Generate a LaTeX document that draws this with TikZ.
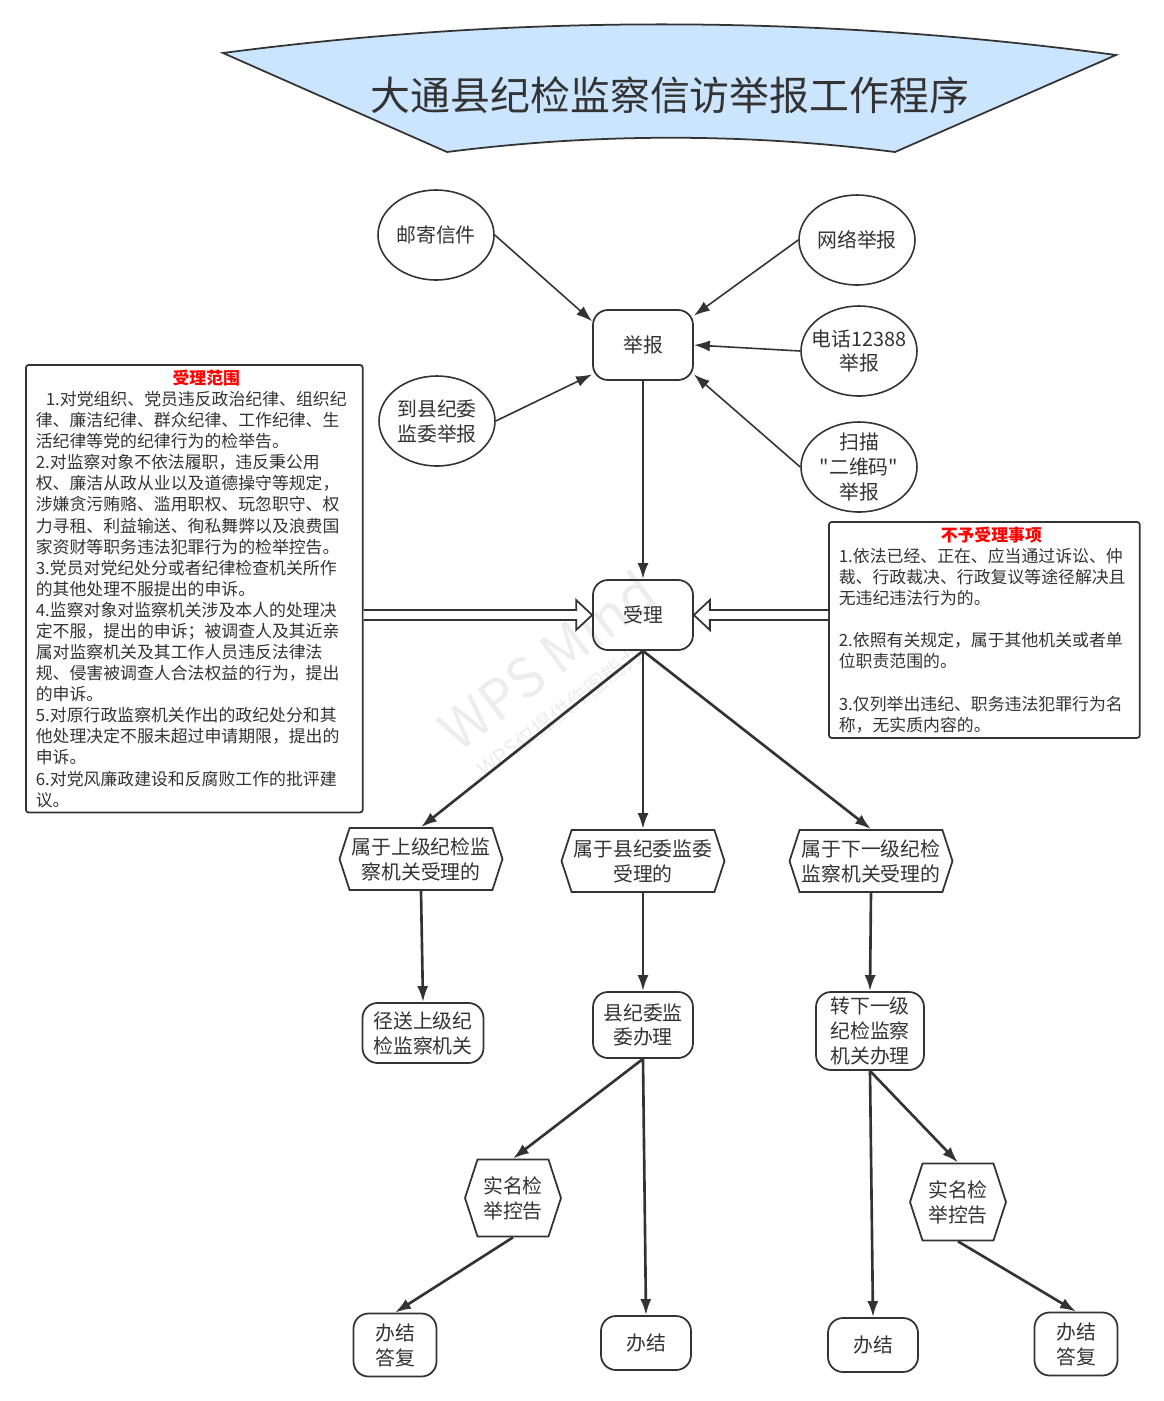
\documentclass[tikz,border=0pt]{standalone}
\usepackage{fontspec}
\setmainfont{Noto Sans CJK SC}
\newfontfamily\plainq{Noto Sans CJK SC}
\usetikzlibrary{shapes.geometric,shapes.symbols,arrows.meta,calc}

\definecolor{ink}{HTML}{333333}
\definecolor{banner}{HTML}{CCE5FF}

\begin{document}
\begin{tikzpicture}[x=0.02cm,y=-0.02cm,>={Latex[length=3.2mm,width=2.2mm]},
  every node/.style={text=ink,font=\fontsize{11.3}{14.2}\selectfont,align=center},
  src/.style={ellipse,draw=ink,line width=0.9pt,minimum width=2.32cm,minimum height=1.8cm,inner sep=-0.2cm},
  box/.style={draw=ink,line width=1pt,rounded corners=0.3cm,minimum width=2cm,minimum height=1.4cm,inner sep=0pt},
  hexa/.style={signal,signal to=west and east,draw=ink,line width=1pt,signal pointer angle=144,inner sep=0pt},
  note/.style={draw=ink,line width=1pt,rounded corners=0.06cm,anchor=north west,align=left,font=\fontsize{9.6}{12}\selectfont,inner xsep=0.2cm,inner ysep=0.1cm},
  feed/.style={->,draw=ink,line width=0.9pt},
  flow/.style={->,draw=ink,line width=1.5pt},
  hollow/.style={draw=ink,line width=1pt,fill=white}]
  \useasboundingbox (0,0) rectangle (1164,1401);
  \node[text=black!7,rotate=37,font=\fontsize{31}{31}\selectfont] (wm1) at (547,660) {WPS Mind};
  \node[text=black!7,rotate=37,font=\fontsize{12.5}{12.5}\selectfont] (wm2) at (560,712) {WPS仅提供作图能力};
  \draw[draw=ink,line width=1pt,fill=banner] (223,53) .. controls (521,14) and (819,15) .. (1116,55)
    -- (895,152) .. controls (746,133) and (596,133) .. (447,152) -- cycle;
  \node[font=\fontsize{22.7}{26}\selectfont] (title) at (670,95) {大通县纪检监察信访举报工作程序};
  \node[src] (yj) at (436,235) {邮寄信件};
  \node[src] (wl) at (857,240) {网络举报};
  \node[src] (dh) at (859,351) {电话12388\\举报};
  \node[src] (dx) at (437,421) {到县纪委\\监委举报};
  \node[src] (sm) at (859,467) {扫描\\{\plainq"}二维码{\plainq"}\\举报};
  \node[box] (jb) at (643,345) {举报};
  \node[box] (sl) at (643,615) {受理};
  \node[note,text width=6.34cm] (fw) at (25,364) {\makebox[6.34cm]{\hspace{0.48cm}\textcolor{red}{\bfseries 受理范围}}\\
    \hspace*{0.2cm}1.对党组织、党员违反政治纪律、组织纪\\
    律、廉洁纪律、群众纪律、工作纪律、生\\
    活纪律等党的纪律行为的检举告。\\
    2.对监察对象不依法履职，违反秉公用\\
    权、廉洁从政从业以及道德操守等规定，\\
    涉嫌贪污贿赂、滥用职权、玩忽职守、权\\
    力寻租、利益输送、徇私舞弊以及浪费国\\
    家资财等职务违法犯罪行为的检举控告。\\
    3.党员对党纪处分或者纪律检查机关所作\\
    的其他处理不服提出的申诉。\\
    4.监察对象对监察机关涉及本人的处理决\\
    定不服，提出的申诉；被调查人及其近亲\\
    属对监察机关及其工作人员违反法律法\\
    规、侵害被调查人合法权益的行为，提出\\
    的申诉。\\
    5.对原行政监察机关作出的政纪处分和其\\
    他处理决定不服未超过申请期限，提出的\\
    申诉。\\
    6.对党风廉政建设和反腐败工作的批评建\\
    议。};
  \node[note,text width=5.82cm] (bs) at (828,521) {\makebox[5.82cm]{\hspace{0.28cm}\textcolor{red}{\bfseries 不予受理事项}}\\
    1.依法已经、正在、应当通过诉讼、仲\\
    裁、行政裁决、行政复议等途径解决且\\
    无违纪违法行为的。\\
    \mbox{}\\
    2.依照有关规定，属于其他机关或者单\\
    位职责范围的。\\
    \mbox{}\\
    3.仅列举出违纪、职务违法犯罪行为名\\
    称，无实质内容的。};
  \node[hexa,minimum width=3.26cm,minimum height=1.24cm] (h1) at (421,859) {属于上级纪检监\\察机关受理的};
  \node[hexa,minimum width=3.26cm,minimum height=1.24cm] (h2) at (643,861) {属于县纪委监委\\受理的};
  \node[hexa,minimum width=3.26cm,minimum height=1.24cm] (h3) at (871,861) {属于下一级纪检\\监察机关受理的};
  \node[box,minimum width=2.42cm,minimum height=1.2cm] (c1) at (423,1033) {径送上级纪\\检监察机关};
  \node[box,minimum height=1.32cm] (c2) at (643,1025) {县纪委监\\委办理};
  \node[box,minimum width=2.16cm,minimum height=1.56cm] (c3) at (870,1031) {转下一级\\纪检监察\\机关办理};
  \node[hexa,minimum width=1.92cm,minimum height=1.54cm] (s1) at (513,1198) {实名检\\举控告};
  \node[hexa,minimum width=1.92cm,minimum height=1.54cm] (s2) at (958,1202) {实名检\\举控告};
  \node[box,minimum width=1.66cm,minimum height=1.26cm] (e1) at (395,1345) {办结\\答复};
  \node[box,minimum width=1.8cm,minimum height=1.08cm] (e2) at (646,1343) {办结};
  \node[box,minimum width=1.8cm,minimum height=1.08cm] (e3) at (873,1345) {办结};
  \node[box,minimum width=1.66cm,minimum height=1.26cm] (e4) at (1076,1344) {办结\\答复};
  \draw[feed] (yj.east) -- (jb.155);
  \draw[feed] (wl.west) -- (jb.30);
  \draw[feed] (dh.west) -- (jb.east);
  \draw[feed] (dx.east) -- (jb.210);
  \draw[feed] (sm.west) -- (jb.-30);
  \draw[flow] (jb) -- (sl);
  \coordinate (la) at (fw.east |- sl.west);
  \coordinate (ra) at (bs.west |- sl.east);
  \draw[hollow] ($(la)+(0,-5)$) -- ($(sl.west)+(-16,-5)$) -- ++(0,-10) -- (sl.west) -- ++(-16,15) -- ++(0,-10) -- ($(la)+(0,5)$);
  \draw[hollow] ($(ra)+(0,-5)$) -- ($(sl.east)+(16,-5)$) -- ++(0,-10) -- (sl.east) -- ++(16,15) -- ++(0,-10) -- ($(ra)+(0,5)$);
  \draw[flow] (sl.south) -- (h1.north);
  \draw[flow] (sl.south) -- (h2.north);
  \draw[flow] (sl.south) -- (h3.north);
  \draw[flow] (h1.south) -- (c1.north);
  \draw[flow] (h2.south) -- (c2.north);
  \draw[flow] (h3.south) -- (c3.north);
  \draw[flow] (c2.south) -- (s1.north);
  \draw[flow] (c2.south) -- (e2.north);
  \draw[flow] (c3.south) -- (e3.north);
  \draw[flow] (c3.south) -- (s2.north);
  \draw[flow] (s1.south) -- (e1.north);
  \draw[flow] (s2.south) -- (e4.north);
\end{tikzpicture}
\end{document}
